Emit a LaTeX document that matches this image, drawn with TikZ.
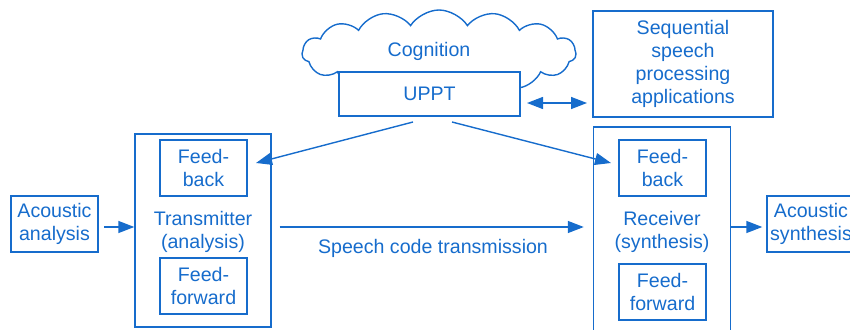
\documentclass[tikz,border=0pt]{standalone}
\usepackage{fontspec}
\setmainfont{Liberation Sans}
\usetikzlibrary{shapes.symbols,arrows.meta,calc}
\definecolor{blu}{RGB}{22,108,204}
\begin{document}
\begin{tikzpicture}[x=1pt,y=-1pt,
  every node/.style={text=blu,font=\fontsize{19.6}{22.8}\selectfont,align=center,inner sep=0pt},
  box/.style={draw=blu,line width=1.4pt},
  tip/.tip={Triangle[length=16pt,width=12pt]},
  conn/.style={draw=blu,line width=1.4pt,-tip},
  dconn/.style={draw=blu,line width=1.4pt,tip-tip}]
\useasboundingbox (0,0) rectangle (850,329);

% cognition cloud with the UPPT block
\node[cloud,draw=blu,line width=1.4pt,cloud puffs=15,cloud puff arc=115,aspect=3.2,
      minimum width=274,minimum height=86] (cloud) at (439,53) {};
\node (cog) at (429,51) {Cognition};
\node[box,fill=white,minimum width=181,minimum height=44] (uppt) at (429.5,94) {UPPT};

\node[box,minimum width=180,minimum height=106] (seq) at (683,64)
  {Sequential\\speech\\processing\\applications};

% input side
\node[box,minimum width=87,minimum height=56] (ana) at (54.5,224) {Acoustic\\analysis};
\node[box,minimum width=136,minimum height=193] (tx) at (203,230.5) {};
\node (txl) at (203,232) {Transmitter\\(analysis)};
\node[box,minimum width=87,minimum height=56] (txfb) at (203.5,168) {Feed-\\back};
\node[box,minimum width=87,minimum height=56] (txff) at (203.5,286) {Feed-\\forward};

% output side
\node[box,minimum width=137,minimum height=206] (rx) at (662,230) {};
\node (rxl) at (662,232) {Receiver\\(synthesis)};
\node[box,minimum width=87,minimum height=56] (rxfb) at (662.5,168) {Feed-\\back};
\node[box,minimum width=87,minimum height=56] (rxff) at (662.5,292) {Feed-\\forward};
\node[box,minimum width=88,minimum height=56] (syn) at (811,224) {Acoustic\\synthesis};

% connectors
\coordinate (ul) at (413,122);
\coordinate (ur) at (452,122);
\coordinate (tl) at (256,163);
\coordinate (tr) at (611,163);
\coordinate (dl) at (527,103);
\coordinate (dr) at (587,103);
\coordinate (a0) at (98,227);
\draw[conn] (ul) -- (tl);
\draw[conn] (ur) -- (tr);
\draw[dconn] (dl) -- (dr);
\draw[conn,shorten <=6pt] (a0) -- (a0-|tx.west);
\draw[conn,shorten <=8pt,shorten >=9pt] (a0-|tx.east) -- (a0-|rx.west);
\draw[conn,shorten >=4pt] (a0-|rx.east) -- (a0-|syn.west);
\node (sct) at (433,248) {Speech code transmission};
\end{tikzpicture}
\end{document}
